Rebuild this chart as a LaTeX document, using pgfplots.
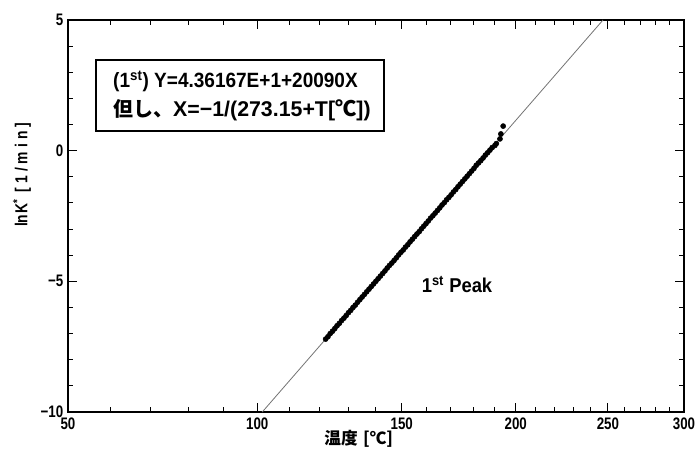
\documentclass[border=0pt]{standalone}
\usepackage{pgfplots}
\pgfplotsset{compat=1.18}
\usepackage{fontspec}
\setmainfont{Liberation Sans}
\newfontfamily\jp{Noto Sans CJK JP}
\newfontfamily\cond{Liberation Sans}[FakeStretch=0.8]
\newfontfamily\boxfont{Liberation Sans Bold}[FakeStretch=0.92]

% x axis is X = -1000/(273.15+T), labelled in deg C
\pgfplotstableread{
x y
-2.530 -7.21
-2.525 -7.12
-2.520 -7.00
-2.515 -6.91
-2.510 -6.81
-2.505 -6.70
-2.500 -6.61
-2.495 -6.50
-2.490 -6.41
-2.485 -6.31
-2.480 -6.20
-2.475 -6.11
-2.470 -6.00
-2.465 -5.91
-2.460 -5.80
-2.455 -5.70
-2.450 -5.60
-2.445 -5.50
-2.440 -5.40
-2.435 -5.30
-2.430 -5.20
-2.425 -5.10
-2.420 -5.00
-2.415 -4.90
-2.410 -4.80
-2.405 -4.70
-2.400 -4.60
-2.395 -4.49
-2.390 -4.39
-2.385 -4.30
-2.380 -4.20
-2.375 -4.10
-2.370 -3.99
-2.365 -3.89
-2.360 -3.80
-2.355 -3.69
-2.350 -3.60
-2.345 -3.49
-2.340 -3.39
-2.335 -3.29
-2.330 -3.19
-2.325 -3.10
-2.320 -2.99
-2.315 -2.89
-2.310 -2.79
-2.305 -2.69
-2.300 -2.58
-2.295 -2.49
-2.290 -2.39
-2.285 -2.29
-2.280 -2.19
-2.275 -2.08
-2.270 -1.99
-2.265 -1.88
-2.260 -1.79
-2.255 -1.69
-2.250 -1.58
-2.245 -1.49
-2.240 -1.38
-2.235 -1.28
-2.230 -1.18
-2.225 -1.08
-2.220 -0.98
-2.215 -0.88
-2.210 -0.78
-2.205 -0.68
-2.200 -0.56
-2.195 -0.47
-2.190 -0.38
-2.185 -0.28
-2.180 -0.17
-2.175 -0.08
-2.170 0.02
-2.165 0.12
-2.159 0.20
-2.156 0.27
-2.148 0.45
-2.146 0.64
-2.141 0.94
}\peak

\begin{document}
\begin{tikzpicture}
\begin{axis}[
  scale only axis, width=462pt, height=294pt,
  xmin=-3.09454, xmax=-1.74474, ymin=-10, ymax=5,
  axis line style={line width=0.9pt},
  tick align=inside, tick pos=both,
  xtick={-3.09454,-2.67989,-2.36323,-2.11350,-1.91150,-1.74474},
  xticklabels={50,100,150,200,250,300},
  minor xtick={-3.00165,-2.91418,-2.83166,-2.75368,-2.60994,-2.54356,-2.48047,-2.42043,
    -2.30867,-2.25657,-2.20677,-2.15913,-2.06975,-2.02778,-1.98748,-1.94875,
    -1.87564,-1.84111,-1.80783,-1.77573},
  ytick={-10,-5,0,5}, yticklabels={−10,−5,0,5},
  minor ytick={-9,-8,-7,-6,-4,-3,-2,-1,1,2,3,4},
  major tick length=6.5pt, minor tick length=3.5pt,
  every tick/.style={line width=0.7pt, black},
  xticklabel style={font=\cond\bfseries\fontsize{12.5}{14}\selectfont, yshift=-1pt},
  yticklabel style={font=\cond\bfseries\fontsize{12.5}{14}\selectfont},
  clip=false,
]
\addplot[gray!90!black, line width=0.6pt] coordinates {(-2.66883,-10) (-1.92218,5)};
\addplot[only marks, mark=*, mark size=1.9pt, black] table {\peak};

\coordinate (sw) at (rel axis cs:0,0);
\coordinate (ne) at (rel axis cs:1,1);

\draw[line width=1.2pt, fill=white] (rel axis cs:0.0455,0.717) rectangle (rel axis cs:0.513,0.898);
\node[anchor=base west, inner sep=0pt, font=\boxfont\fontsize{15.5}{18}\selectfont]
  at (rel axis cs:0.073,0.829) {(1\textsuperscript{st}) Y=4.36167E+1+20090X};
\node[anchor=base west, inner sep=0pt, font=\bfseries\fontsize{16}{18}\selectfont]
  at (rel axis cs:0.073,0.755) {{\jp\bfseries\fontsize{15}{18}\selectfont 但し、}X=−1/(273.15+T[{\jp\bfseries ℃}])};

\node[font=\boxfont\fontsize{15}{18}\selectfont] at (rel axis cs:0.6315,0.324)
  {1\textsuperscript{st} Peak};

\node[rotate=90, font=\cond\bfseries\fontsize{13}{15}\selectfont] at (rel axis cs:-0.0747,0.605)
  {ln\hspace{1pt}K\textsuperscript{*}\hspace{5pt}[\hspace{3pt}1\hspace{3pt}/\hspace{3pt}m\hspace{3pt}i\hspace{3pt}n\hspace{3pt}]};
\node[font=\jp\bfseries\fontsize{12.5}{14}\selectfont, yshift=-20.25pt] at (rel axis cs:0.472,0)
  {温度\hspace{4pt}[℃]};
\end{axis}
\pgfresetboundingbox
\path[use as bounding box] ([xshift=-51pt,yshift=-28.5pt]sw) rectangle ([xshift=9.75pt,yshift=15pt]ne);
\end{tikzpicture}
\end{document}
